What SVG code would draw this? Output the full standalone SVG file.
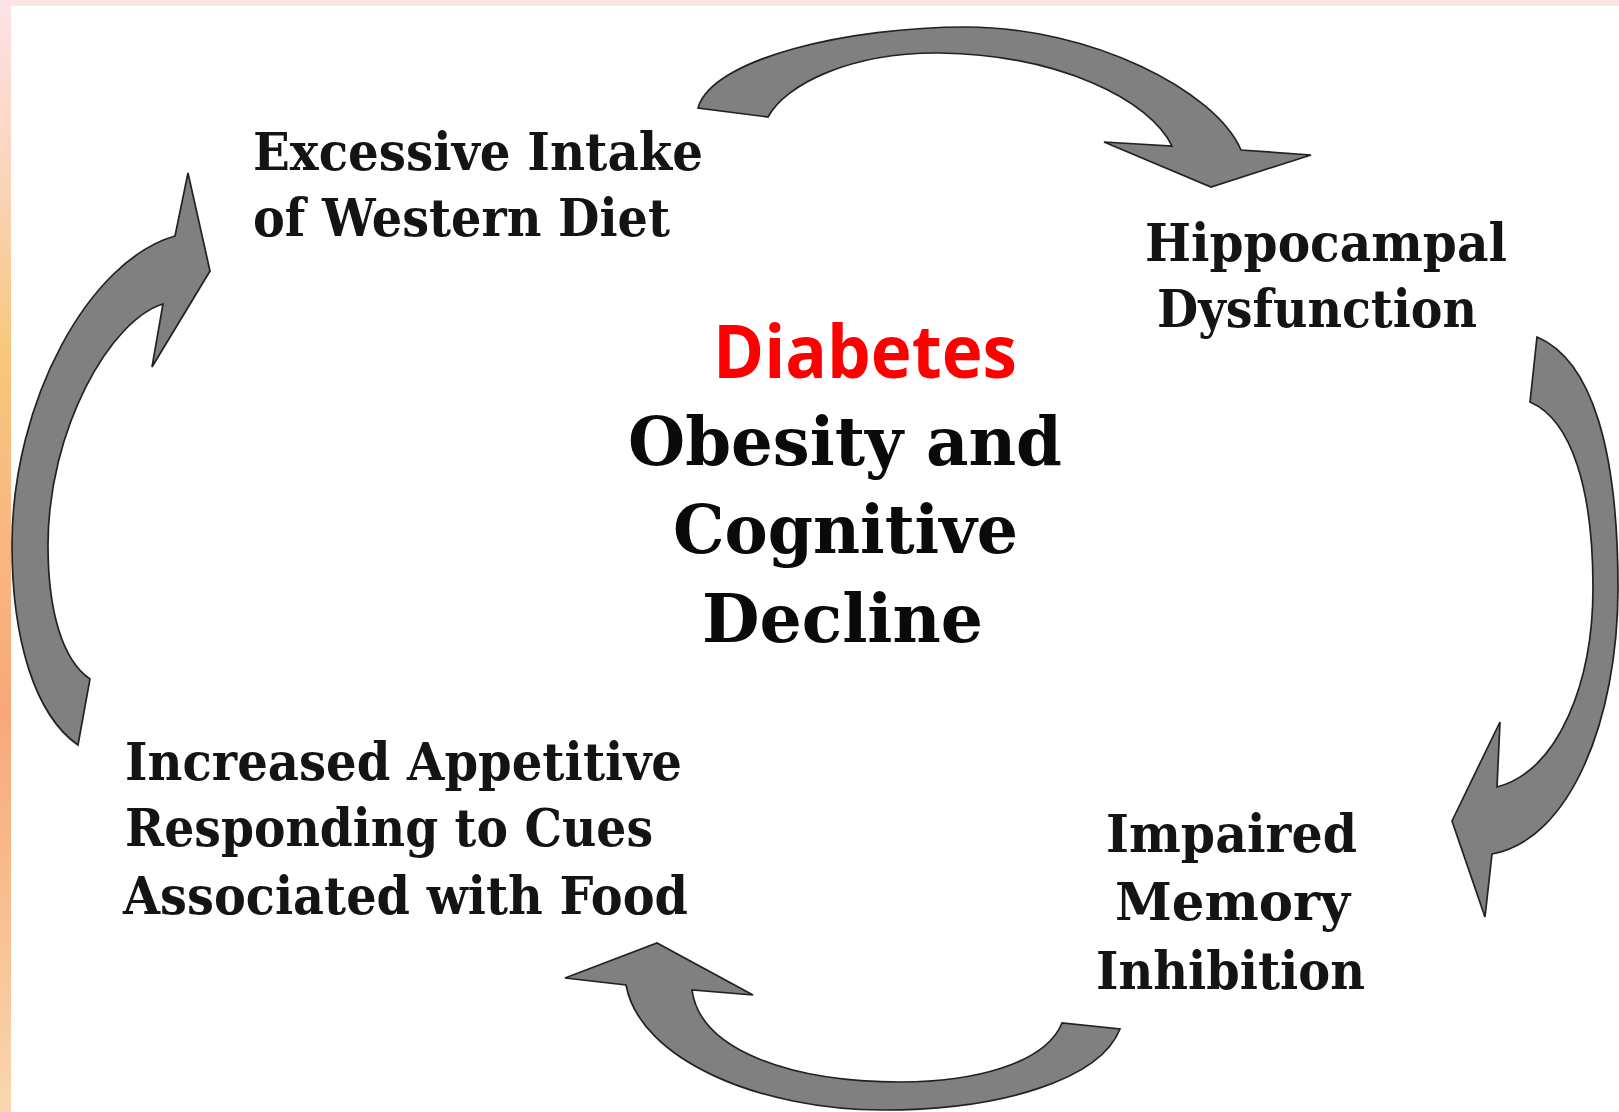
<svg xmlns="http://www.w3.org/2000/svg" width="1619" height="1112" viewBox="0 0 1619 1112">
<defs>
<linearGradient id="sideGrad" x1="0" y1="0" x2="0" y2="1">
<stop offset="0" stop-color="#fde3e8"/>
<stop offset="0.18" stop-color="#fad2b4"/>
<stop offset="0.32" stop-color="#f8c77c"/>
<stop offset="0.5" stop-color="#f8b582"/>
<stop offset="0.64" stop-color="#f8a87a"/>
<stop offset="0.78" stop-color="#f9ba8b"/>
<stop offset="1" stop-color="#f9d7b0"/>
</linearGradient>
<style>
.lbl{font-family:"DejaVu Serif","Liberation Serif",serif;font-weight:bold;font-size:52px;fill:#141414}
.ctr{font-family:"DejaVu Serif","Liberation Serif",serif;font-weight:bold;font-size:67px;fill:#0a0a0a}
.red{font-family:"Open Sans","Liberation Sans",sans-serif;font-weight:bold;font-size:74px;fill:#ff0000}
.arr{fill:#808080;stroke:#222222;stroke-width:1.7;stroke-linejoin:miter}
</style>
</defs>
<rect x="0" y="0" width="1619" height="1112" fill="#ffffff"/>
<rect x="0" y="0" width="1619" height="6" fill="#fce5df"/>
<rect x="0" y="0" width="11" height="1112" fill="url(#sideGrad)"/>

<g id="connectors">
<path class="arr" d="M698,108 C712,58 850,27 966,27 C1090,27 1215,90 1241,150 L1311,155 L1211,187 L1104,142 L1172,146 C1150,100 1060,55 940,53 C850,52 785,85 768,117 Z"/>
<path class="arr" d="M1537,337 C1592,360 1618,450 1618,588 C1618,720 1570,840 1492,854 L1485,917 L1452,821 L1500,722 L1497,787 C1560,770 1593,680 1593,588 C1593,490 1572,420 1530,402 Z"/>
<path class="arr" d="M626,985 C640,1060 760,1110 883,1110 C1000,1110 1100,1080 1120,1029 L1062,1023 C1045,1065 970,1082 901,1082 C790,1082 700,1050 692,990 L753,995 L657,943 L565,978 Z"/>
<path class="arr" d="M175,236 C90,260 12,400 12,545 C12,640 35,715 78,745 L90,679 C62,660 48,610 48,545 C48,430 110,320 163,304 L152,367 L210,271 L188,173 Z"/>
</g>

<g id="node-western-diet">
<text class="lbl" x="253" y="170" textLength="450" lengthAdjust="spacingAndGlyphs">Excessive Intake</text>
<text class="lbl" x="253" y="236" textLength="417" lengthAdjust="spacingAndGlyphs">of Western Diet</text>
</g>
<g id="node-hippocampal">
<text class="lbl" x="1145" y="261" textLength="362" lengthAdjust="spacingAndGlyphs">Hippocampal</text>
<text class="lbl" x="1157" y="327" textLength="320" lengthAdjust="spacingAndGlyphs">Dysfunction</text>
</g>
<g id="node-center">
<text class="red" x="713" y="378" textLength="304" lengthAdjust="spacingAndGlyphs">Diabetes</text>
<text class="ctr" x="628" y="465" textLength="434" lengthAdjust="spacingAndGlyphs">Obesity and</text>
<text class="ctr" x="673" y="553" textLength="345" lengthAdjust="spacingAndGlyphs">Cognitive</text>
<text class="ctr" x="702" y="642" textLength="281" lengthAdjust="spacingAndGlyphs">Decline</text>
</g>
<g id="node-impaired-memory">
<text class="lbl" x="1106" y="852" textLength="251" lengthAdjust="spacingAndGlyphs">Impaired</text>
<text class="lbl" x="1115" y="920" textLength="235" lengthAdjust="spacingAndGlyphs">Memory</text>
<text class="lbl" x="1096" y="989" textLength="269" lengthAdjust="spacingAndGlyphs">Inhibition</text>
</g>
<g id="node-appetitive">
<text class="lbl" x="125" y="780" textLength="557" lengthAdjust="spacingAndGlyphs">Increased Appetitive</text>
<text class="lbl" x="125" y="846" textLength="528" lengthAdjust="spacingAndGlyphs">Responding to Cues</text>
<text class="lbl" x="123" y="914" textLength="565" lengthAdjust="spacingAndGlyphs">Associated with Food</text>
</g>
</svg>
